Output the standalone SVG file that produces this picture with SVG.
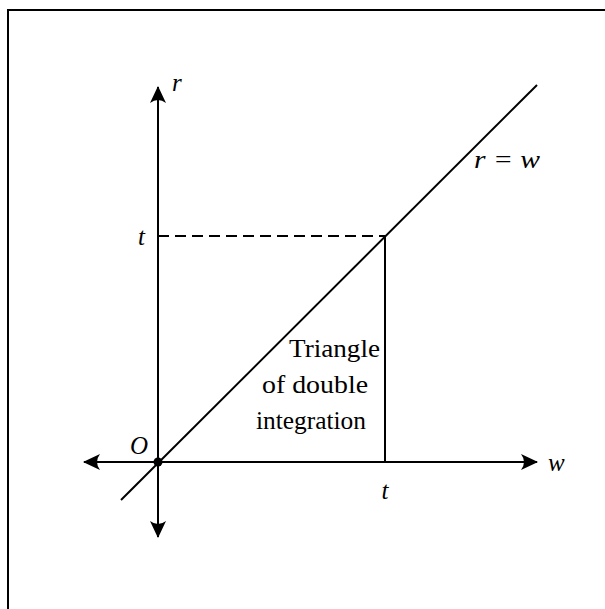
<svg xmlns="http://www.w3.org/2000/svg" width="605" height="609" viewBox="0 0 605 609">
<style>
.ln{stroke:#000;stroke-width:2;fill:none}
.mt{font-family:"Liberation Serif","DejaVu Serif",serif;font-style:italic;font-size:25px;fill:#000}
.tx{font-family:"Liberation Serif","DejaVu Serif",serif;font-size:25px;fill:#000}
</style>
<defs>
<marker id="ah" viewBox="0 0 18 18" refX="16" refY="9" markerWidth="18" markerHeight="18" markerUnits="userSpaceOnUse" orient="auto">
<path d="M17,9 L0,1 Q6,9 0,17 Z" fill="#000"/>
</marker>
</defs>
<rect x="8" y="10" width="620" height="620" fill="#fff" stroke="#000" stroke-width="2"/>
<g id="connectors">
<line class="ln" x1="158" y1="462" x2="158" y2="87" marker-end="url(#ah)"/>
<line class="ln" x1="158" y1="462" x2="158" y2="537" marker-end="url(#ah)"/>
<line class="ln" x1="158" y1="462" x2="537" y2="462" marker-end="url(#ah)"/>
<line class="ln" x1="158" y1="462" x2="84" y2="462" marker-end="url(#ah)"/>
<line class="ln" x1="121" y1="500" x2="537" y2="85"/>
<line class="ln" x1="158" y1="236" x2="385" y2="236" stroke-dasharray="11,6"/>
<line class="ln" x1="385" y1="236" x2="385" y2="462"/>
</g>
<g id="origin">
<circle cx="158" cy="462" r="4.5" fill="#000"/>
<text class="mt" x="148" y="454" text-anchor="end">O</text>
</g>
<g id="labels">
<text class="mt" x="172" y="91">r</text>
<text class="mt" x="145" y="245" text-anchor="end">t</text>
<text class="mt" x="385" y="499" text-anchor="middle">t</text>
<text class="mt" x="548" y="471">w</text>
<text class="mt" x="474" y="168" textLength="66" lengthAdjust="spacingAndGlyphs">r = w</text>
</g>
<g id="triangle-label">
<text class="tx" x="289" y="357" textLength="91" lengthAdjust="spacingAndGlyphs">Triangle</text>
<text class="tx" x="262" y="393" textLength="106" lengthAdjust="spacingAndGlyphs">of double</text>
<text class="tx" x="256" y="429" textLength="110" lengthAdjust="spacingAndGlyphs">integration</text>
</g>
</svg>
